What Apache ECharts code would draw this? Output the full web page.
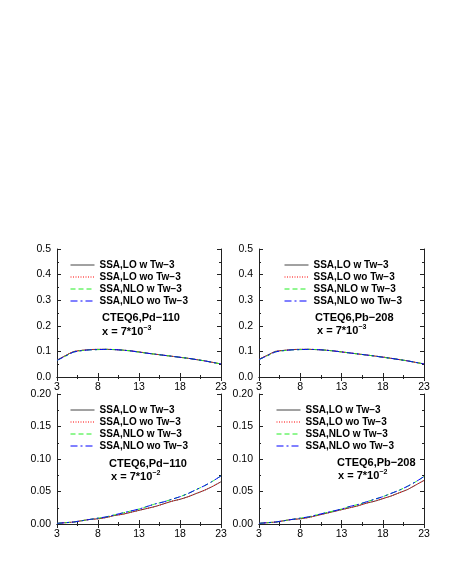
<!DOCTYPE html>
<html>
<head>
<meta charset="utf-8">
<script src="https://cdn.jsdelivr.net/npm/echarts@6/dist/echarts.min.js"></script>
<style>
  html, body { margin: 0; padding: 0; background: #fff; }
  #chart { width: 463px; height: 572px; }
</style>
</head>
<body>
<div id="chart"></div>
<script>
// x grid (same for all four panels)
const xValues = [3, 4, 5, 6, 7, 8, 9, 10, 11, 12, 13, 14, 15, 16, 17, 18, 19, 20, 21, 22, 23];
const xTicks = [3, 8, 13, 18, 23];

const seriesNames = ['SSA,LO w Tw\u22123', 'SSA,LO wo Tw\u22123', 'SSA,NLO w Tw\u22123', 'SSA,NLO wo Tw\u22123'];

// x = 7*10^-3 panels
const pdSmallLO  = [0.066, 0.083, 0.099, 0.104, 0.107, 0.108, 0.108, 0.107, 0.105, 0.102, 0.098, 0.093, 0.089, 0.085, 0.081, 0.077, 0.073, 0.068, 0.063, 0.057, 0.051];
const pdSmallNLO = [0.065, 0.081, 0.097, 0.103, 0.106, 0.107, 0.108, 0.107, 0.105, 0.102, 0.097, 0.093, 0.089, 0.085, 0.081, 0.077, 0.073, 0.068, 0.063, 0.057, 0.051];
const pbSmallLO  = [0.069, 0.085, 0.100, 0.104, 0.107, 0.108, 0.108, 0.107, 0.105, 0.102, 0.098, 0.094, 0.090, 0.086, 0.082, 0.078, 0.073, 0.068, 0.063, 0.057, 0.051];
const pbSmallNLO = [0.068, 0.083, 0.098, 0.103, 0.106, 0.107, 0.108, 0.107, 0.105, 0.102, 0.098, 0.094, 0.090, 0.086, 0.082, 0.077, 0.073, 0.068, 0.063, 0.057, 0.051];

// x = 7*10^-2 panels
const pdLargeLO  = [0.001, 0.002, 0.003, 0.005, 0.007, 0.008, 0.010, 0.013, 0.015, 0.018, 0.021, 0.024, 0.027, 0.031, 0.035, 0.038, 0.042, 0.047, 0.052, 0.058, 0.065];
const pdLargeNLO = [0.001, 0.002, 0.003, 0.005, 0.007, 0.009, 0.011, 0.014, 0.017, 0.020, 0.023, 0.027, 0.031, 0.034, 0.038, 0.042, 0.047, 0.053, 0.059, 0.066, 0.074];
const pbLargeLO  = [0.001, 0.002, 0.003, 0.005, 0.007, 0.008, 0.010, 0.013, 0.016, 0.019, 0.022, 0.025, 0.028, 0.032, 0.035, 0.039, 0.043, 0.048, 0.053, 0.060, 0.067];
const pbLargeNLO = [0.001, 0.002, 0.003, 0.005, 0.007, 0.009, 0.011, 0.014, 0.017, 0.020, 0.023, 0.027, 0.030, 0.034, 0.038, 0.042, 0.047, 0.052, 0.058, 0.065, 0.073];

const panelData = [
  [pdSmallLO, pdSmallLO, pdSmallNLO, pdSmallNLO],
  [pbSmallLO, pbSmallLO, pbSmallNLO, pbSmallNLO],
  [pdLargeLO, pdLargeLO, pdLargeNLO, pdLargeNLO],
  [pbLargeLO, pbLargeLO, pbLargeNLO, pbLargeNLO]
];
const panelNuclei = ['CTEQ6,Pd\u2212110', 'CTEQ6,Pb\u2212208', 'CTEQ6,Pd\u2212110', 'CTEQ6,Pb\u2212208'];
const panelExp = ['\u22123', '\u22123', '\u22122', '\u22122'];

const yTop = { max: 0.5, interval: 0.1, digits: 1 };
const yBottom = { max: 0.2, interval: 0.05, digits: 2 };

const font = 'Liberation Sans';
const axisColor = '#222';

const grids = [
  { left: 57, top: 249, width: 164, height: 128 },
  { left: 259, top: 249, width: 165, height: 128 },
  { left: 57, top: 394, width: 164, height: 130 },
  { left: 259, top: 394, width: 165, height: 130 }
];
const legendPos = [[70, 260], [284, 260], [70, 405], [276, 405]];
const notePos = [[102, 318, 102, 332], [315, 318, 317, 331], [109, 464, 111, 477], [337, 463, 338, 476]];

const lineStyles = [
  { color: '#444', type: 'solid' },
  { color: '#ff0000', type: [1, 1.5] },
  { color: '#22ee22', type: [5, 3] },
  { color: '#0000ff', type: [7, 3, 2, 3] }
];

const baseAxis = {
  axisLine: { lineStyle: { color: axisColor, width: 1 } },
  axisTick: { inside: true, length: 4, lineStyle: { color: axisColor } },
  minorTick: { show: true, splitNumber: 2, length: 2, lineStyle: { color: axisColor } },
  splitLine: { show: false },
  minorSplitLine: { show: false }
};

const xAxes = [];
const yAxes = [];
const series = [];
grids.forEach((g, i) => {
  const ys = i < 2 ? yTop : yBottom;
  ['bottom', 'top'].forEach(pos => {
    xAxes.push(Object.assign({}, baseAxis, {
      type: 'value', gridIndex: i, position: pos, min: 3, max: 23, interval: 5,
      axisLabel: { show: pos === 'bottom', color: '#000', fontFamily: font, fontSize: 10.5, margin: 5,
        formatter: v => xTicks.includes(v) ? String(v) : '' }
    }));
  });
  ['left', 'right'].forEach(pos => {
    yAxes.push(Object.assign({}, baseAxis, {
      type: 'value', gridIndex: i, position: pos, min: 0, max: ys.max, interval: ys.interval,
      axisLabel: { show: pos === 'left', color: '#000', fontFamily: font, fontSize: 10.5, margin: 6,
        formatter: v => v.toFixed(ys.digits) }
    }));
  });
  panelData[i].forEach((vals, k) => {
    series.push({
      name: seriesNames[k],
      type: 'line',
      xAxisIndex: 2 * i,
      yAxisIndex: 2 * i,
      symbol: 'none',
      smooth: 0.2,
      lineStyle: { width: 1, color: lineStyles[k].color, type: lineStyles[k].type },
      itemStyle: { color: lineStyles[k].color },
      data: xValues.map((x, j) => [x, vals[j]])
    });
  });
});

const legends = grids.map((g, i) => ({
  data: seriesNames,
  orient: 'vertical',
  left: legendPos[i][0],
  top: legendPos[i][1],
  itemWidth: 24,
  itemHeight: 10,
  itemGap: 2,
  padding: 0,
  selectedMode: false,
  itemStyle: { opacity: 0 },
  lineStyle: { width: 1 },
  textStyle: { fontFamily: font, fontWeight: 'bold', fontSize: 10, color: '#000', lineHeight: 10 }
}));

const notes = [];
notePos.forEach((p, i) => {
  notes.push({
    type: 'text', x: p[0], y: p[1],
    style: { text: panelNuclei[i], font: 'bold 11px "Liberation Sans"', fill: '#000', verticalAlign: 'middle' }
  });
  notes.push({
    type: 'text', x: p[2], y: p[3],
    style: {
      text: 'x = 7*10{sup|' + panelExp[i] + '}',
      font: 'bold 11px "Liberation Sans"', fill: '#000', verticalAlign: 'middle', lineHeight: 15,
      rich: { sup: { font: 'bold 7px "Liberation Sans"', fill: '#000', verticalAlign: 'top', lineHeight: 7 } }
    }
  });
});

const chart = echarts.init(document.getElementById('chart'), null, { renderer: 'canvas' });
chart.setOption({
  backgroundColor: '#fff',
  animation: false,
  grid: grids.map(g => Object.assign({ containLabel: false, outerBoundsMode: 'none' }, g)),
  xAxis: xAxes,
  yAxis: yAxes,
  legend: legends,
  series: series,
  graphic: notes
});
</script>
</body>
</html>
